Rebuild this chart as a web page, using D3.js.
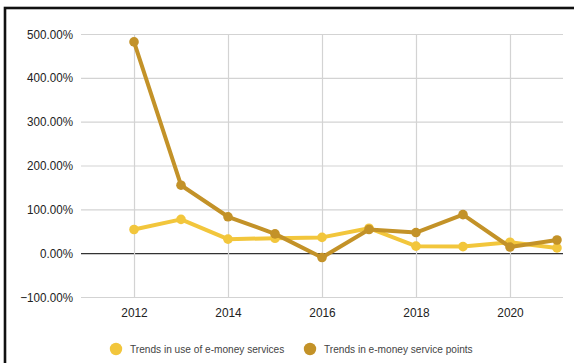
<!DOCTYPE html>
<html>
<head>
<meta charset="utf-8">
<script src="https://cdn.jsdelivr.net/npm/d3@7"></script>
<style>
  html, body { margin: 0; padding: 0; background: #fff; }
  svg { display: block; }
</style>
</head>
<body>
<svg id="chart" width="574" height="363"></svg>
<script>
// Years and annual growth rates (%) for the two series
const years = [2012, 2013, 2014, 2015, 2016, 2017, 2018, 2019, 2020, 2021];
const useOfServices = [54, 77, 32, 34, 36, 57, 16, 15, 25, 12];
const servicePoints = [482, 155, 83, 44, -10, 54, 47, 88, 14, 30];
const seriesNames = ["Trends in use of e-money services", "Trends in e-money service points"];
const seriesColors = ["#f2c63c", "#c39228"];
const yTicks = [-100, 0, 100, 200, 300, 400, 500];
const xTicks = [2012, 2014, 2016, 2018, 2020];

const svg = d3.select("#chart");
const font = "'Liberation Sans', Arial, sans-serif";

// Slightly narrow the glyphs of a text selection
function narrow(sel, k) {
  sel.each(function () {
    const w = this.getComputedTextLength();
    d3.select(this).attr("textLength", w * k).attr("lengthAdjust", "spacingAndGlyphs");
  });
}

// Frame
svg.append("rect")
  .attr("x", 5).attr("y", 8)
  .attr("width", 600).attr("height", 400)
  .attr("fill", "none")
  .attr("stroke", "#111")
  .attr("stroke-width", 2.6);

const x = d3.scaleLinear().domain([2010.872, 2021.128]).range([81, 563]);
const y = d3.scaleLinear().domain([-100, 500]).range([297, 34]);

// Horizontal gridlines + labels
const yAxis = d3.axisLeft(y).tickValues(yTicks)
  .tickSize(-(563 - 81))
  .tickFormat(d => d3.format(".2f")(d) + "%");
const gy = svg.append("g").attr("transform", "translate(81,0)").call(yAxis);
gy.select(".domain").remove();
gy.selectAll(".tick line").attr("stroke", d => d === 0 ? "#333" : "#d3d3d3").attr("stroke-width", 1.2);
gy.selectAll(".tick text")
  .attr("x", -8).attr("fill", "#222")
  .style("font-family", font).style("font-size", "12.5px")
  .call(narrow, 0.93);

// Vertical gridlines + year labels
const xAxis = d3.axisBottom(x).tickValues(xTicks).tickSize(-(297 - 34)).tickFormat(d3.format("d"));
const gx = svg.append("g").attr("transform", "translate(0,297)").call(xAxis);
gx.select(".domain").remove();
gx.selectAll(".tick line").attr("stroke", "#d3d3d3").attr("stroke-width", 1.2);
gx.selectAll(".tick text")
  .attr("y", 11).attr("fill", "#222")
  .style("font-family", font).style("font-size", "12.5px")
  .call(narrow, 0.95);

// Zero line on top of gridlines
gy.selectAll(".tick").filter(d => d === 0).raise();

// Series
const allSeries = [useOfServices, servicePoints];
const line = d3.line().x((d, i) => x(years[i])).y(d => y(d));
allSeries.forEach((vals, s) => {
  const g = svg.append("g");
  g.append("path")
    .datum(vals)
    .attr("d", line)
    .attr("fill", "none")
    .attr("stroke", seriesColors[s])
    .attr("stroke-width", 4)
    .attr("stroke-linejoin", "round");
  g.selectAll("circle").data(vals).join("circle")
    .attr("cx", (d, i) => x(years[i]))
    .attr("cy", d => y(d))
    .attr("r", 4.8)
    .attr("fill", seriesColors[s]);
});

// Legend
const legendX = [116, 310];
seriesNames.forEach((name, s) => {
  const lg = svg.append("g").attr("transform", `translate(${legendX[s]},349)`);
  lg.append("circle").attr("r", 6.2).attr("fill", seriesColors[s]);
  lg.append("text")
    .attr("x", 14).attr("y", 4)
    .attr("fill", "#444")
    .style("font-family", font).style("font-size", "11.5px")
    .text(name)
    .call(narrow, 0.88);
});
</script>
</body>
</html>
